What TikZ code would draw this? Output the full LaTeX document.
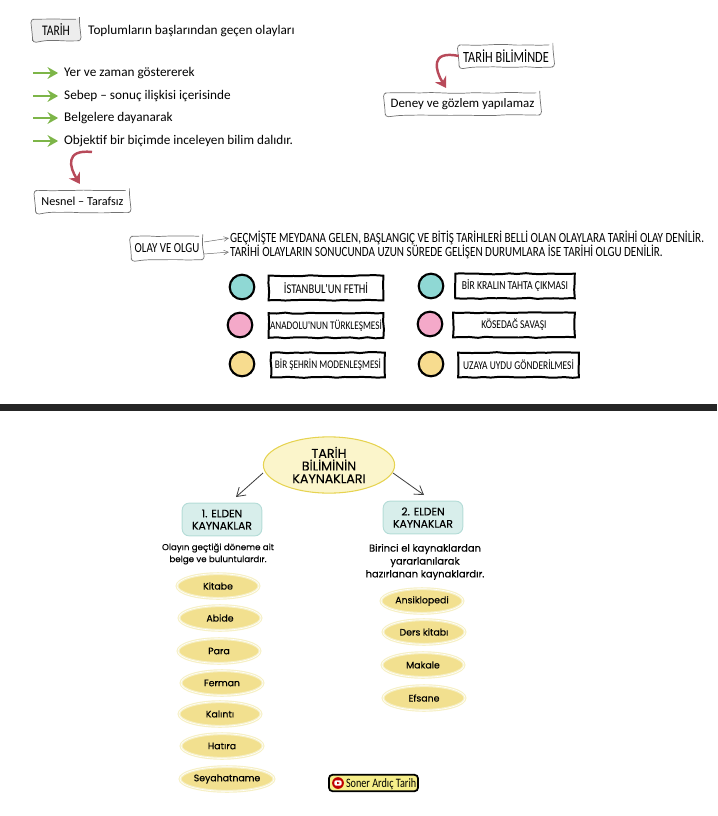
\documentclass[tikz,border=0pt]{standalone}
\usepackage{fontspec}
\setmainfont{Carlito}
\newfontfamily\capsfont[FakeStretch=0.79]{Carlito}
\newfontfamily\roundfont[FakeBold=0.25]{Poppins}
\usetikzlibrary{arrows.meta,decorations.pathmorphing,shapes.geometric}
\definecolor{okyesil}{HTML}{7DB548}
\definecolor{okkirmizi}{HTML}{B84A5A}
\definecolor{turkuaz}{HTML}{8FD8D4}
\definecolor{pembe}{HTML}{F4A9C9}
\definecolor{sari}{HTML}{F7DC8F}
\definecolor{kutuyesil}{HTML}{D8EEEB}
\definecolor{kutucizgi}{HTML}{B4DCD7}
\definecolor{baslik}{HTML}{FBF5CB}
\definecolor{baslikcizgi}{HTML}{E6D350}
\definecolor{oval}{HTML}{F2E08F}
\definecolor{ovalkenar}{HTML}{F6F0C6}
\definecolor{kanal}{HTML}{F6EE8A}
\tikzset{
  kutu/.style={draw=black!55, line width=0.6pt, rounded corners=3pt, inner sep=0pt, text=black,
    decorate, decoration={random steps,segment length=9pt,amplitude=0.4pt}},
  kalin/.style={draw=black, line width=1.7pt, fill=white, inner sep=0pt, minimum height=21pt,
    decorate, decoration={random steps,segment length=7pt,amplitude=0.5pt}},
  daire/.style={circle, draw=black, line width=1.8pt, minimum size=21pt, inner sep=0pt},
  yesilok/.style={okyesil, line width=1.7pt, shorten >=5pt, -{Stealth[length=9pt,width=10pt]}},
  kirmiziok/.style={okkirmizi, line width=2.1pt, -{Stealth[length=9pt,width=11pt]}},
  inceok/.style={black!60, line width=0.4pt, shorten >=1pt, -{Straight Barb[length=4pt,width=4pt]}},
  duzyazi/.style={anchor=west, inner sep=0pt, font=\fontsize{11.3}{13}\selectfont},
  buyukyazi/.style={anchor=west, inner sep=0pt, font=\capsfont\fontsize{12}{13}\selectfont},
  dalok/.style={black!75, line width=0.7pt, -{Straight Barb[length=7pt,width=9pt]}},
  elden/.style={draw=kutucizgi, fill=kutuyesil, line width=0.8pt, rounded corners=6pt, align=center,
    minimum width=68pt, minimum height=28pt, inner sep=0pt,
    font=\roundfont\fontsize{9.2}{10.4}\selectfont},
  aciklama/.style={align=center, inner sep=0pt, font=\roundfont\fontsize{7.4}{10.2}\selectfont},
  kaynak/.style={ellipse, draw=ovalkenar, fill=oval, double=white, double distance=0.5pt, line width=1pt,
    minimum width=70pt, minimum height=21pt, inner sep=0pt, font=\roundfont\fontsize{8}{9}\selectfont}
}
\pgfmathsetseed{7}
\begin{document}
\begin{tikzpicture}[x=0.03cm,y=-0.03cm]
    \useasboundingbox (0,0) rectangle (717,816);

    % Tarih tanimi
    \node[kutu, fill=black!7, minimum width=40pt, minimum height=18.5pt, font=\capsfont\fontsize{12.5}{13}\selectfont] (tarih) at (56,30) {TARİH};
    \node[duzyazi] (tanim) at (88,31.5) {Toplumların başlarından geçen olayları};

    % Yesil oklar
    \foreach \ad/\py/\yazi in {yer/73/{Yer ve zaman göstererek},
        sebep/96/{Sebep -- sonuç ilişkisi içerisinde},
        belge/118/{Belgelere dayanarak},
        nesne/141/{Objektif bir biçimde inceleyen bilim dalıdır.}}{
        \node[duzyazi] (\ad) at (64,\py) {\yazi};
        \coordinate (\ad bas) at (33,\py);
        \draw[yesilok] (\ad bas) -- (\ad.west);
    }

    % Nesnel kutusu
    \node[kutu, minimum width=80pt, minimum height=19pt, font=\fontsize{10.4}{12}\selectfont] (nesnel) at (82.5,201.5) {Nesnel -- Tarafsız};
    \coordinate (kavis) at (92,152);
    \coordinate (kavisuc) at (80,184);
    \draw[kirmiziok] (kavis) .. controls (64,149) and (70,168) .. (kavisuc);

    % Tarih biliminde
    \node[kutu, minimum width=80pt, minimum height=19pt, font=\capsfont\fontsize{13.3}{14}\selectfont] (bilim) at (506,56) {TARİH BİLİMİNDE};
    \node[kutu, minimum width=132pt, minimum height=19pt, font=\fontsize{11}{12}\selectfont] (deney) at (462.5,104) {Deney ve gözlem yapılamaz};
    \coordinate (deneyuc) at (446,88);
    \draw[kirmiziok] (bilim.west) .. controls (430,50) and (435,70) .. (deneyuc);

    % Olay ve olgu
    \node[kutu, minimum width=61pt, minimum height=20pt, font=\capsfont\fontsize{11.8}{13}\selectfont] (olay) at (167,248) {OLAY VE OLGU};
    \node[buyukyazi] (tanimbir) at (230,238) {GEÇMİŞTE MEYDANA GELEN, BAŞLANGIÇ VE BİTİŞ TARİHLERİ BELLİ OLAN OLAYLARA TARİHİ OLAY DENİLİR.};
    \node[buyukyazi] (tanimiki) at (230,252) {TARİHİ OLAYLARIN SONUCUNDA UZUN SÜREDE GELİŞEN DURUMLARA İSE TARİHİ OLGU DENİLİR.};
    \coordinate (olayust) at (204,242);
    \coordinate (olayalt) at (204,254);
    \draw[inceok] (olayust) -- (tanimbir.west);
    \draw[inceok] (olayalt) -- (tanimiki.west);

    % Renkli daireler ve kutular
    \foreach \ad/\renk/\dx/\dy/\kx/\ky/\gen/\boy/\yazi in {
        fetih/turkuaz/242/287/326/288/98/11.4/{İSTANBUL'UN FETHİ},
        kral/turkuaz/431/286/515/286/102/10.4/{BİR KRALIN TAHTA ÇIKMASI},
        anadolu/pembe/240/325/326/325.5/98/10/{ANADOLU'NUN TÜRKLEŞMESİ},
        kosedag/pembe/430/324/514/325/104/10.2/{KÖSEDAĞ SAVAŞI},
        sehir/sari/242/364/328/365/97/10/{BİR ŞEHRİN MODENLEŞMESİ},
        uzay/sari/431/364/518.5/365/103/10.2/{UZAYA UYDU GÖNDERİLMESİ}}{
        \node[daire, fill=\renk] (\ad daire) at (\dx,\dy) {};
        \node[kalin, minimum width=\gen pt, font=\capsfont\fontsize{\boy}{12}\selectfont] (\ad) at (\kx,\ky) {\yazi};
    }

    % Ayirici cizgi
    \fill[black!85] (0,404) rectangle (717,411);

    % Tarih biliminin kaynaklari
    \node[ellipse, draw=baslikcizgi, fill=baslik, line width=0.9pt, minimum width=112pt, minimum height=48pt, inner sep=0pt, align=center, font=\roundfont\fontsize{10.8}{10.8}\selectfont] (kaynaklar) at (329,465) {TARİH\\BİLİMİNİN\\KAYNAKLARI};
    \node[elden] (birinci) at (222,519.5) {1. ELDEN\\KAYNAKLAR};
    \node[elden] (ikinci) at (423,517.5) {2. ELDEN\\KAYNAKLAR};
    \coordinate (solbas) at (263,473);
    \coordinate (saguc) at (424,495);
    \coordinate (soluc) at (236,497);
    \coordinate (sagbas) at (393,473);
    \draw[dalok] (solbas) -- (soluc);
    \draw[dalok] (sagbas) -- (saguc);

    \node[aciklama] (birinciyazi) at (218,554) {Olayın geçtiği döneme ait\\belge ve buluntulardır.};
    \node[aciklama, font=\roundfont\fontsize{8.5}{11}\selectfont] (ikinciyazi) at (425,562) {Birinci el kaynaklardan\\yararlanılarak\\hazırlanan kaynaklardır.};

    % Kaynak ovalleri
    \foreach \ad/\px/\py/\yazi in {kitabe/218/586/Kitabe, abide/220/618/Abide, para/219/651/Para,
        ferman/222/683/Ferman, kalinti/220/714/Kalıntı, hatira/222/746/Hatıra, seyahat/227/779/Seyahatname,
        ansiklopedi/422/601/Ansiklopedi, ders/424/632/Ders kitabı, makale/423/665/Makale, efsane/424/698/Efsane}{
        \node[kaynak] (\ad) at (\px,\py) {\yazi};
    }

    % Kanal etiketi
    \node[draw=black, fill=kanal, line width=1.5pt, rounded corners=3pt, minimum width=76pt, minimum height=14pt, inner sep=0pt, font=\capsfont\fontsize{11}{12}\selectfont, text depth=0pt] (kanal) at (373.5,783) {\hspace{13pt}Soner Ardıç Tarih};
    \node[circle, fill=red!75!black, minimum size=10pt, inner sep=0pt] (kanaldaire) at (338,783) {};
    \node[fill=white, rounded corners=1pt, minimum width=6pt, minimum height=4.5pt, inner sep=0pt] (kanalkare) at (kanaldaire) {};
    \node[isosceles triangle, fill=red!75!black, minimum size=2pt, inner sep=0pt] (kanaluc) at (kanaldaire) {};
\end{tikzpicture}
\end{document}
